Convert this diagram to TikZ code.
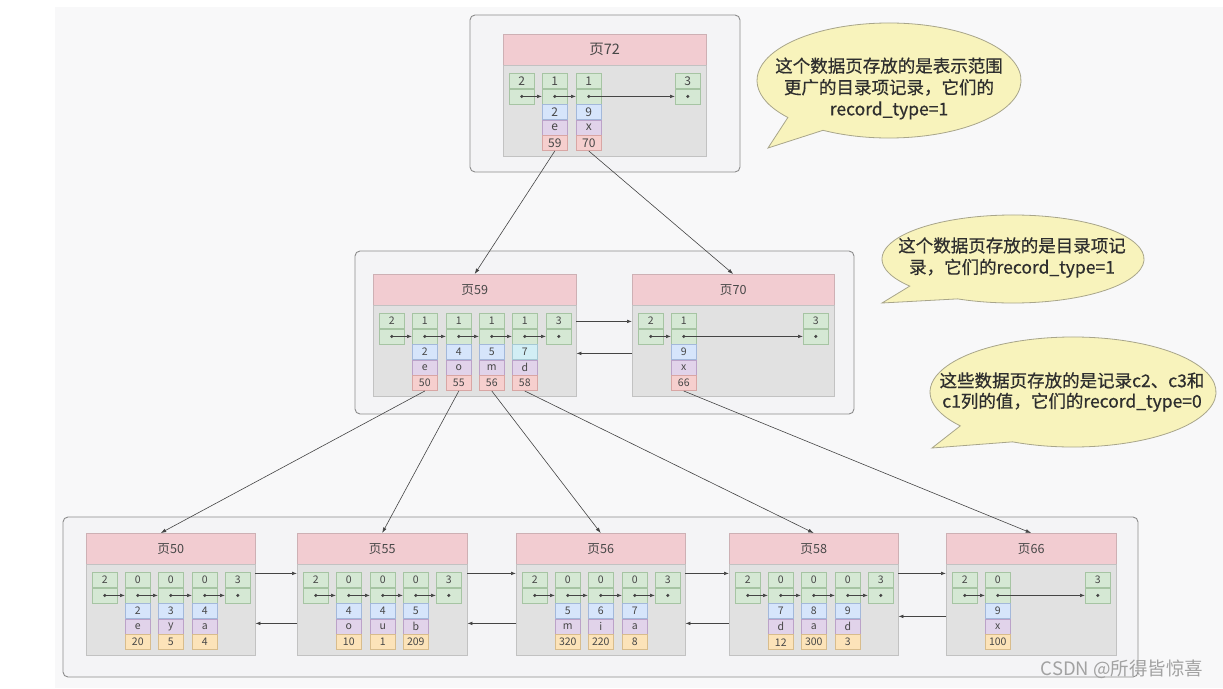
\documentclass[tikz,border=0pt]{standalone}
\usepackage{fontspec}
\setmainfont{Noto Sans CJK SC}
\newfontfamily\callfont{Noto Sans CJK SC}[FakeBold=0.6]
\usetikzlibrary{arrows.meta,calc}
\definecolor{bgc}{HTML}{F8F8F9}
\definecolor{framefill}{HTML}{F4F4F6}
\definecolor{frameline}{HTML}{8C8C8C}
\definecolor{hdrfill}{HTML}{F2CCD1}
\definecolor{hdrline}{HTML}{CDB0B4}
\definecolor{bodyfill}{HTML}{E1E1E1}
\definecolor{bodyline}{HTML}{C2C2C2}
\definecolor{gfill}{HTML}{D5E8D4}
\definecolor{gline}{HTML}{A6C4A3}
\definecolor{bfill}{HTML}{D6E5FB}
\definecolor{bline}{HTML}{A3B8DA}
\definecolor{cfill}{HTML}{D2EEF5}
\definecolor{cline}{HTML}{A5C8D3}
\definecolor{vfill}{HTML}{E1D3EA}
\definecolor{vline}{HTML}{BBA2C8}
\definecolor{rfill}{HTML}{F6CFCE}
\definecolor{rline}{HTML}{D8A6A4}
\definecolor{ofill}{HTML}{FCE3B9}
\definecolor{oline}{HTML}{D8BC8C}
\definecolor{txt}{HTML}{474747}
\definecolor{arrowc}{HTML}{444444}
\definecolor{callfill}{HTML}{F8F3BC}
\definecolor{callline}{HTML}{A8A58A}
\definecolor{calltxt}{HTML}{2E2E2E}
\definecolor{wmc}{HTML}{A2A2A2}
\def\cellsize{10.5}
\def\hdrsize{12.6}
\newcommand\pg[5]{%
  \node[hdr, minimum width=#4pt, anchor=north west] (#1h) at (#2,#3) {#5};
  \node[pbody, minimum width=#4pt, anchor=north west] (#1b) at (#1h.south west) {};
}
\newcommand\gcol[4]{%
  \node[gc, anchor=north west] (#1-t) at (#2,#3) {#4};
  \node[gc, anchor=north] (#1-p) at (#1-t.south) {};
  \node[dotn] (#1-d) at (#1-p.center) {};
}
\newcommand\rcol[5][bc]{%
  \node[#1, anchor=north] (#2-k) at (#2-p.south) {#3};
  \node[vc, anchor=north] (#2-v) at (#2-k.south) {#4};
  \node[#5, anchor=north] (#2-r) at (#2-v.south) {};
}
\newcommand\rtxt[2]{\node[font=\fontsize{\cellsize}{\cellsize}\selectfont, text=txt, inner sep=0] (#1-rt) at (#1-r.center) {#2};}
\begin{document}
\begin{tikzpicture}[x=1pt,y=-1pt,
  frame/.style={draw=frameline, fill=framefill, line width=0.9pt, rounded corners=5pt},
  hdr/.style={draw=hdrline, fill=hdrfill, minimum height=31pt, inner sep=0, text=txt, font=\fontsize{\hdrsize}{\hdrsize}\selectfont},
  pbody/.style={draw=bodyline, fill=bodyfill, minimum height=91pt, inner sep=0},
  cellbase/.style={minimum width=25pt, minimum height=15pt, inner sep=0, text=txt, font=\fontsize{\cellsize}{\cellsize}\selectfont, line width=0.6pt},
  gc/.style={cellbase, draw=gline, fill=gfill},
  bc/.style={cellbase, draw=bline, fill=bfill},
  cc/.style={cellbase, draw=cline, fill=cfill},
  vc/.style={cellbase, draw=vline, fill=vfill},
  rc/.style={cellbase, draw=rline, fill=rfill},
  oc/.style={cellbase, draw=oline, fill=ofill},
  dotn/.style={circle, fill=arrowc, inner sep=0, minimum size=3.4pt},
  ptr/.style={draw=arrowc, line width=0.65pt, -{Latex[length=5pt,width=3.6pt]}},
  link/.style={draw=arrowc, line width=0.6pt, -{Latex[length=5.5pt,width=3.8pt]}},
  callout/.style={draw=callline, fill=callfill, line width=0.8pt},
  ctext/.style={align=center, text=calltxt, font=\callfont\fontsize{17.5}{21.5}\selectfont, inner sep=0}
]
\useasboundingbox (0,0) rectangle (1223,688);
\fill[white] (0,0) rectangle (1223,688);
\fill[bgc] (55,7) rectangle (1223,688);

% frames
\draw[frame] (470,15) rectangle (740,172);
\draw[frame] (355,251) rectangle (854,414);
\draw[frame] (63,517) rectangle (1138,677);

% ---------- page 72 ----------
\begin{scope}
\def\cellsize{12}\def\hdrsize{14.5}
\pg{p72}{503}{34}{203}{页72}
\gcol{a1}{509}{73}{2}
\gcol{a2}{542}{73}{1}\rcol{a2}{2}{e}{rc}\rtxt{a2}{59}
\gcol{a3}{576}{73}{1}\rcol{a3}{9}{x}{rc}\rtxt{a3}{70}
\gcol{a4}{675}{73}{3}
\end{scope}
\foreach \s/\e in {a1/a2,a2/a3,a3/a4} \draw[ptr] (\s-d.center) -- (\e-p.west);

% ---------- page 59 ----------
\pg{p59}{373}{274}{203}{页59}
\gcol{b1}{379}{313}{2}
\gcol{b2}{412}{313}{1}\rcol{b2}{2}{e}{rc}\rtxt{b2}{50}
\gcol{b3}{446}{313}{1}\rcol{b3}{4}{o}{rc}\rtxt{b3}{55}
\gcol{b4}{479}{313}{1}\rcol{b4}{5}{m}{rc}\rtxt{b4}{56}
\gcol{b5}{512}{313}{1}\rcol[cc]{b5}{7}{d}{rc}\rtxt{b5}{58}
\gcol{b6}{546}{313}{3}
\foreach \s/\e in {b1/b2,b2/b3,b3/b4,b4/b5,b5/b6} \draw[ptr] (\s-d.center) -- (\e-p.west);

% ---------- page 70 ----------
\pg{p70}{632}{274}{202}{页70}
\gcol{c1}{638}{313}{2}
\gcol{c2}{671}{313}{1}\rcol{c2}{9}{x}{rc}\rtxt{c2}{66}
\gcol{c3}{803}{313}{3}
\foreach \s/\e in {c1/c2,c2/c3} \draw[ptr] (\s-d.center) -- (\e-p.west);

\draw[ptr] ($(p59b.north east)+(0,16)$) -- ($(p70b.north west)+(0,16)$);
\draw[ptr] ($(p70b.north west)+(0,48)$) -- ($(p59b.north east)+(0,48)$);

% ---------- page 50 ----------
\pg{p50}{86}{533}{169}{页50}
\gcol{d1}{92}{572}{2}
\gcol{d2}{125}{572}{0}\rcol{d2}{2}{e}{oc}\rtxt{d2}{20}
\gcol{d3}{158}{572}{0}\rcol{d3}{3}{y}{oc}\rtxt{d3}{5}
\gcol{d4}{192}{572}{0}\rcol{d4}{4}{a}{oc}\rtxt{d4}{4}
\gcol{d5}{225}{572}{3}
% ---------- page 55 ----------
\pg{p55}{297}{533}{170}{页55}
\gcol{e1}{303}{572}{2}
\gcol{e2}{336}{572}{0}\rcol{e2}{4}{o}{oc}\rtxt{e2}{10}
\gcol{e3}{370}{572}{0}\rcol{e3}{4}{u}{oc}\rtxt{e3}{1}
\gcol{e4}{403}{572}{0}\rcol{e4}{5}{b}{oc}\rtxt{e4}{209}
\gcol{e5}{436}{572}{3}
% ---------- page 56 ----------
\pg{p56}{516}{533}{169}{页56}
\gcol{f1}{522}{572}{2}
\gcol{f2}{555}{572}{0}\rcol{f2}{5}{m}{oc}\rtxt{f2}{320}
\gcol{f3}{588}{572}{0}\rcol{f3}{6}{i}{oc}\rtxt{f3}{220}
\gcol{f4}{622}{572}{0}\rcol{f4}{7}{a}{oc}\rtxt{f4}{8}
\gcol{f5}{655}{572}{3}
% ---------- page 58 ----------
\pg{p58}{729}{533}{169}{页58}
\gcol{g1}{735}{572}{2}
\gcol{g2}{768}{572}{0}\rcol{g2}{7}{d}{oc}\rtxt{g2}{12}
\gcol{g3}{801}{572}{0}\rcol{g3}{8}{a}{oc}\rtxt{g3}{300}
\gcol{g4}{835}{572}{0}\rcol{g4}{9}{d}{oc}\rtxt{g4}{3}
\gcol{g5}{868}{572}{3}
% ---------- page 66 ----------
\pg{p66}{946}{533}{170}{页66}
\gcol{h1}{952}{572}{2}
\gcol{h2}{985}{572}{0}\rcol{h2}{9}{x}{oc}\rtxt{h2}{100}
\gcol{h3}{1085}{572}{3}

\foreach \s/\e in {d1/d2,d2/d3,d3/d4,d4/d5,e1/e2,e2/e3,e3/e4,e4/e5,f1/f2,f2/f3,f3/f4,f4/f5,g1/g2,g2/g3,g3/g4,g4/g5,h1/h2,h2/h3}
  \draw[ptr] (\s-d.center) -- (\e-p.west);

% sibling links bottom level
\foreach \l/\r/\lo in {p50/p55/59,p55/p56/59,p56/p58/59,p58/p66/52} {
  \draw[ptr] ($(\l b.north east)+(0,9)$) -- ($(\r b.north west)+(0,9)$);
  \draw[ptr] ($(\r b.north west)+(0,\lo)$) -- ($(\l b.north east)+(0,\lo)$);
}

% level links
\draw[link] (a2-r.south) -- (p59h.north);
\draw[link] (a3-r.south) -- (p70h.north);
\draw[link] (b2-r.south) -- ([xshift=-10pt]p50h.north);
\draw[link] (b3-r.south) -- (p55h.north);
\draw[link] (b4-r.south) -- (p56h.north);
\draw[link] (b5-r.south) -- (p58h.north);
\draw[link] (c2-r.south) -- (p66h.north);

% callouts
\coordinate (k1) at (889,80.5);
\coordinate (t1) at (768,148);
\draw[callout] ($(k1)+(240:132pt and 57.5pt)$) arc[start angle=240, end angle=580, x radius=132pt, y radius=57.5pt] -- (t1) -- cycle;
\node[ctext] (n1) at (889,88.5) {这个数据页存放的是表示范围\\更广的目录项记录，它们的\\record\_type=1};

\coordinate (k2) at (1013,259);
\coordinate (t2) at (882,303);
\draw[callout] ($(k2)+(245:131pt and 44pt)$) arc[start angle=245, end angle=578, x radius=131pt, y radius=44pt] -- (t2) -- cycle;
\node[ctext] (n2) at (1012,257.5) {这个数据页存放的是目录项记\\录，它们的record\_type=1};

\coordinate (k3) at (1073,392);
\coordinate (t3) at (932,448);
\draw[callout] ($(k3)+(245:143pt and 55pt)$) arc[start angle=245, end angle=578, x radius=143pt, y radius=55pt] -- (t3) -- cycle;
\node[ctext, font=\callfont\fontsize{17.5}{20.5}\selectfont] (n3) at (1072,392) {这些数据页存放的是记录c2、c3和\\c1列的值，它们的record\_type=0};

% watermark
\node[font=\fontsize{18.5}{18.5}\selectfont, text=wmc, inner sep=0] (wm) at (1122,669) {CSDN @所得皆惊喜};
\end{tikzpicture}
\end{document}
